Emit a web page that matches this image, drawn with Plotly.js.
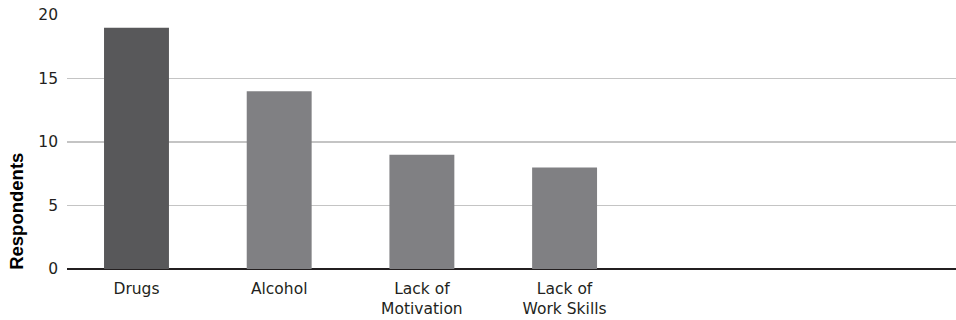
<!DOCTYPE html>
<html>
<head>
<meta charset="utf-8">
<script src="https://cdn.plot.ly/plotly-3.0.1.min.js"></script>
<style>
  html, body { margin: 0; padding: 0; background: #fff; }
  #chart { width: 956px; height: 320px; }
</style>
</head>
<body>
<div id="chart"></div>
<script>
// Reasons given by respondents
const categories = ["Drugs", "Alcohol", "Lack of<br>Motivation", "Lack of<br>Work Skills"];
const respondents = [19, 14, 9, 8];
const barColors = ["#58585a", "#808083", "#808083", "#808083"];
const yTicks = [0, 5, 10, 15, 20];

const labelFont = { family: "DejaVu Sans, sans-serif", size: 15.5, color: "#231f20" };

const trace = {
  type: "bar",
  x: categories,
  y: respondents,
  marker: { color: barColors, line: { width: 0 } },
  width: 0.455,
  hoverinfo: "none"
};

const layout = {
  width: 956,
  height: 320,
  margin: { l: 67, r: 0, t: 15, b: 51 },
  paper_bgcolor: "#ffffff",
  plot_bgcolor: "#ffffff",
  showlegend: false,
  xaxis: {
    type: "category",
    range: [-0.487, 5.743],
    showgrid: false,
    showline: false,
    zeroline: false,
    ticks: "",
    tickfont: labelFont,
    ticklabelstandoff: 8,
    fixedrange: true
  },
  yaxis: {
    range: [0, 20],
    tickvals: yTicks,
    ticktext: yTicks.map(String),
    showgrid: true,
    gridcolor: "#c4c4c4",
    gridwidth: 1.2,
    showline: false,
    zeroline: true,
    zerolinecolor: "#231f20",
    zerolinewidth: 2,
    ticks: "",
    tickfont: labelFont,
    ticklabelstandoff: 8,
    fixedrange: true
  },
  annotations: [{
    text: "<b>Respondents</b>",
    xref: "paper",
    yref: "y",
    x: 0,
    xshift: -50,
    y: 4.5,
    textangle: -90,
    showarrow: false,
    xanchor: "center",
    yanchor: "middle",
    font: { family: "Liberation Sans, Arial, sans-serif", size: 18.5, color: "#000000" }
  }]
};

Plotly.newPlot("chart", [trace], layout, { displayModeBar: false, staticPlot: true });
</script>
</body>
</html>
